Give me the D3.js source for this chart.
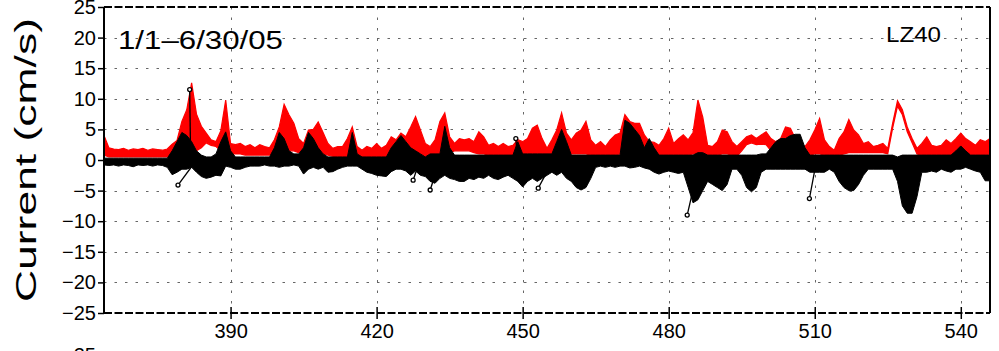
<!DOCTYPE html>
<html>
<head>
<meta charset="utf-8">
<script src="https://d3js.org/d3.v7.min.js"></script>
<style>
  body { margin: 0; background: #fff; }
  svg { display: block; }
  text { font-family: "Liberation Sans", Arial, sans-serif; fill: #000; }
</style>
</head>
<body>
<svg id="chart" width="999" height="351"></svg>
<script>
// daily samples, first one is day 364
const firstDay = 364;

// red trace: upper and lower edge of the band (cm/s)
const redHi = [
  4.0, 2.0, 1.8, 1.7, 1.9, 1.6, 1.8, 1.7, 1.9, 1.6,
  1.8, 1.7, 1.6, 1.8, 2.6, 3.2, 6.3, 8.2, 12.6, 7.5,
  5.5, 4.4, 3.3, 3.0, 4.8, 9.8, 2.7, 2.5, 2.7, 2.2,
  2.5, 2.0, 2.5, 2.2, 2.0, 3.3, 5.4, 9.1, 7.4, 6.0,
  3.5, 2.7, 4.9, 5.0, 6.2, 4.5, 2.7, 1.9, 2.2, 2.2,
  3.5, 5.4, 2.2, 1.6, 2.2, 1.9, 2.7, 1.9, 2.4, 3.8,
  3.3, 4.4, 3.8, 5.4, 7.1, 4.9, 2.7, 2.2, 3.3, 6.3,
  7.7, 3.8, 2.7, 3.5, 3.3, 3.5, 3.0, 4.6, 3.8, 2.4,
  2.7, 2.2, 2.7, 2.2, 2.4, 3.3, 3.0, 3.5, 5.2, 5.7,
  3.5, 1.9, 3.3, 4.9, 7.7, 4.4, 3.3, 4.4, 4.9, 6.3,
  3.3, 2.4, 3.0, 2.2, 3.3, 4.1, 4.4, 7.4, 6.3, 6.0,
  6.0, 4.1, 3.0, 2.9, 2.4, 3.5, 5.2, 2.7, 3.5, 4.1,
  3.3, 4.5, 9.8, 7.0, 2.4, 2.2, 3.0, 4.9, 4.6, 3.0,
  2.2, 3.0, 3.8, 4.1, 3.5, 4.1, 4.6, 3.5, 3.0, 3.5,
  5.4, 5.2, 3.5, 2.7, 2.2, 3.3, 4.9, 6.8, 3.3, 2.2,
  1.6, 3.5, 4.6, 6.6, 4.9, 4.1, 2.7, 3.0, 2.2, 2.4,
  2.7, 1.9, 6.0, 9.7, 8.2, 5.4, 3.5, 1.9, 2.7, 3.8,
  2.4, 2.2, 2.4, 3.3, 2.7, 3.5, 4.4, 3.5, 3.0, 2.4,
  3.3, 3.0, 3.5
];
const redLo = [
  0.8, 0.5, 0.5, 0.5, 0.5, 0.5, 0.5, 0.5, 0.5, 0.5,
  0.5, 0.5, 0.5, 0.5, 0.8, 1.0, 1.2, 1.0, 1.0, 1.5,
  2.0, 2.8, 2.4, 2.2, 1.5, 1.2, 1.0, 1.0, 1.0, 0.8,
  0.8, 0.8, 0.8, 0.8, 0.8, 1.0, 1.2, 1.2, 1.5, 1.5,
  1.2, 1.0, 1.0, 1.2, 1.2, 1.0, 0.8, 0.6, 0.6, 0.6,
  0.6, 0.8, 0.6, 0.6, 0.6, 0.6, 0.6, 0.6, 0.6, 0.8,
  0.8, 0.8, 0.8, 1.0, 1.0, 1.0, 0.6, 0.6, 0.8, 1.0,
  1.0, 1.2, 1.5, 1.5, 1.5, 1.5, 1.2, 1.0, 1.0, 0.8,
  0.8, 0.6, 0.6, 0.6, 0.6, 0.8, 0.8, 1.0, 1.0, 1.0,
  0.8, 0.6, 0.8, 1.0, 1.0, 1.0, 1.0, 1.0, 1.0, 1.0,
  0.8, 0.6, 0.6, 0.6, 0.6, 0.8, 1.0, 1.0, 1.0, 1.0,
  1.0, 0.8, 0.6, 0.6, 0.6, 0.8, 0.8, 0.6, 0.8, 0.8,
  0.8, 1.0, 1.0, 1.0, 0.6, 0.6, 0.8, 1.0, 1.0, 0.8,
  0.6, 1.5, 2.5, 2.8, 2.5, 2.6, 2.5, 1.5, 1.2, 1.2,
  1.5, 1.5, 1.0, 0.8, 0.6, 0.8, 1.0, 1.0, 0.8, 0.6,
  0.5, 0.8, 1.0, 1.2, 1.2, 1.2, 1.2, 1.2, 1.2, 1.2,
  1.2, 1.0, 5.2, 8.8, 7.4, 4.6, 2.8, 1.0, 0.8, 0.8,
  0.6, 0.6, 0.6, 0.8, 0.8, 0.8, 1.0, 0.8, 0.8, 0.8,
  0.8, 0.8, 1.0
];

// black sticks: daily envelope of the v component (cm/s)
const blackHi = [
  0.3, 0.3, 0.3, 0.3, 0.3, 0.3, 0.3, 0.3, 0.3, 0.3,
  0.3, 0.3, 0.3, 0.3, 1.5, 3.0, 4.5, 4.0, 3.0, 1.5,
  0.8, 0.5, 0.5, 1.0, 3.0, 4.6, 1.5, 0.5, 0.5, 0.5,
  0.5, 0.5, 0.5, 0.5, 0.5, 2.0, 4.5, 3.5, 1.5, 1.0,
  1.0, 2.0, 4.5, 3.5, 2.0, 1.0, 0.5, 0.5, 0.5, 0.5,
  0.5, 4.5, 1.0, 0.5, 0.5, 0.5, 0.5, 0.5, 0.5, 2.0,
  3.0, 4.0, 3.0, 2.0, 1.5, 1.0, 0.5, 1.0, 1.0, 1.0,
  5.5, 2.0, 0.8, 0.8, 0.8, 0.8, 0.8, 0.8, 0.8, 0.8,
  0.8, 0.8, 0.8, 0.8, 0.8, 3.0, 1.0, 1.0, 1.0, 1.0,
  1.0, 1.0, 1.0, 3.0, 5.0, 3.0, 0.8, 0.8, 0.8, 0.8,
  0.8, 0.8, 0.8, 0.8, 0.8, 0.8, 0.8, 6.5, 6.0, 5.0,
  4.0, 2.0, 3.5, 2.0, 0.8, 0.8, 0.8, 0.8, 0.8, 0.8,
  0.8, 0.8, 1.2, 1.2, 0.8, 0.8, 0.8, 0.8, 0.8, 0.8,
  0.8, 0.8, 0.8, 0.8, 0.8, 1.0, 1.0, 2.0, 3.0, 3.5,
  3.5, 4.0, 4.2, 4.2, 2.0, 0.8, 0.8, 0.8, 0.8, 0.8,
  0.8, 0.8, 0.8, 0.8, 0.8, 0.8, 0.8, 0.8, 0.8, 0.8,
  0.8, 0.8, 0.8, 0.5, 0.8, 0.8, 0.8, 0.8, 0.8, 0.8,
  0.8, 0.8, 0.8, 0.8, 0.8, 1.5, 2.3, 1.5, 0.8, 0.8,
  0.8, 0.8, 0.8
];
const blackLo = [
  -0.8, -0.9, -0.8, -1.0, -0.8, -0.9, -1.1, -0.8, -0.9, -0.8,
  -1.0, -0.8, -0.9, -1.2, -2.4, -2.0, -1.5, -1.5, -1.2, -2.0,
  -2.7, -3.0, -2.8, -2.5, -2.6, -1.0, -1.2, -1.5, -1.5, -1.2,
  -1.0, -1.0, -1.0, -0.8, -1.0, -1.0, -1.2, -1.0, -1.0, -0.8,
  -1.0, -2.3, -1.5, -1.2, -1.5, -1.2, -2.0, -1.9, -1.5, -1.2,
  -1.0, -1.0, -1.0, -1.5, -2.0, -2.2, -2.5, -2.6, -2.7, -1.9,
  -1.5, -1.5, -1.8, -2.5, -1.8, -2.5, -2.7, -3.5, -3.8, -3.0,
  -2.5, -3.0, -3.2, -3.5, -3.5, -3.0, -3.2, -2.8, -3.0, -2.5,
  -3.0, -3.2, -2.8, -2.5, -3.0, -3.5, -4.4, -3.5, -3.0, -3.5,
  -3.0, -2.5, -2.0, -2.5, -2.0, -3.0, -3.5, -4.5, -4.9, -4.5,
  -3.0, -1.2, -1.0, -1.2, -1.0, -1.2, -1.0, -1.0, -1.3, -1.2,
  -1.0, -1.3, -1.5, -2.0, -2.3, -2.0, -1.8, -2.0, -2.2, -2.0,
  -4.5, -7.0, -6.5, -5.0, -3.5, -4.0, -4.5, -5.0, -4.0, -1.5,
  -1.5, -2.5, -4.5, -5.2, -4.5, -2.0, -1.5, -1.5, -1.5, -1.5,
  -1.5, -1.5, -1.5, -1.5, -1.5, -2.0, -2.0, -2.0, -2.0, -1.5,
  -2.0, -3.5, -4.5, -5.0, -5.0, -4.0, -2.5, -1.5, -1.5, -1.5,
  -1.5, -1.5, -1.5, -3.5, -7.5, -8.7, -8.7, -6.0, -2.0, -2.0,
  -1.8, -2.0, -1.5, -1.8, -2.0, -1.5, -1.5, -1.2, -1.5, -1.8,
  -2.0, -3.4, -3.4
];

// single long sticks that stand out: base day, u (in days), v (cm/s)
const stickDay = [381.8, 383.0, 428.9, 433.0, 449.0, 456.3, 486.4, 510.4];
const stickU   = [-0.2, -3.8, -1.4, -2.0, -0.4, -3.1, -2.6, -1.5];
const stickV   = [11.5, -4.1, -3.3, -4.9, 3.5, -4.6, -9.0, -6.3];

const xTicks = [390, 420, 450, 480, 510, 540];
const yTicks = [-25, -20, -15, -10, -5, 0, 5, 10, 15, 20, 25];
const gridY = [-20, -15, -10, -5, 0, 5, 10, 15, 20];

const svg = d3.select('#chart');
const plotL = 104, plotR = 990, plotT = 7, plotB = 313;

const x = d3.scaleLinear().domain([364, 546]).range([plotL, plotR]);
const y = d3.scaleLinear().domain([-25, 25]).range([plotB, plotT]);

const rows = redHi.map((v, i) => ({
  day: firstDay + i, hi: v, lo: redLo[i], bh: blackHi[i], bl: blackLo[i]
}));

svg.append('clipPath').attr('id', 'plot')
  .append('rect')
  .attr('x', plotL).attr('y', plotT)
  .attr('width', plotR - plotL).attr('height', plotB - plotT);

// grid
const grid = svg.append('g')
  .attr('stroke', '#666')
  .attr('stroke-width', 1)
  .attr('stroke-dasharray', '2.5,8');
grid.selectAll('.gy').data(gridY).join('line')
  .attr('x1', plotL).attr('x2', plotR)
  .attr('y1', d => Math.round(y(d)) + 0.5).attr('y2', d => Math.round(y(d)) + 0.5);
grid.selectAll('.gx').data(xTicks).join('line')
  .attr('y1', plotT).attr('y2', plotB)
  .attr('x1', d => Math.round(x(d)) + 0.5).attr('x2', d => Math.round(x(d)) + 0.5);

const plot = svg.append('g').attr('clip-path', 'url(#plot)');

// red band
plot.append('path')
  .datum(rows)
  .attr('fill', '#ff0000')
  .attr('stroke', '#ff0000')
  .attr('stroke-width', 1.2)
  .attr('d', d3.area()
    .x(d => x(d.day))
    .y0(d => y(d.lo))
    .y1(d => y(d.hi)));

// black stick envelope
plot.append('path')
  .datum(rows)
  .attr('fill', '#000')
  .attr('stroke', '#000')
  .attr('stroke-width', 1)
  .attr('d', d3.area()
    .x(d => x(d.day))
    .y0(d => y(d.bl))
    .y1(d => y(d.bh)));

// long sticks
const sticks = stickDay.map((d, i) => ({ d, u: stickU[i], v: stickV[i] }));
plot.selectAll('.stick').data(sticks).join('line')
  .attr('x1', d => x(d.d)).attr('y1', y(0))
  .attr('x2', d => x(d.d + d.u)).attr('y2', d => y(d.v))
  .attr('stroke', '#000').attr('stroke-width', 1.3);
plot.selectAll('.tip').data(sticks).join('circle')
  .attr('cx', d => x(d.d + d.u)).attr('cy', d => y(d.v))
  .attr('r', 2)
  .attr('fill', '#fff').attr('stroke', '#000').attr('stroke-width', 1.3);

// frame: solid sides, dashed top and bottom
const frame = svg.append('g').attr('stroke', '#000').attr('stroke-width', 2);
frame.append('line').attr('x1', plotL).attr('x2', plotL).attr('y1', plotT).attr('y2', plotB);
frame.append('line').attr('x1', plotR).attr('x2', plotR).attr('y1', plotT).attr('y2', plotB);
frame.append('line').attr('x1', plotL).attr('x2', plotR).attr('y1', plotT).attr('y2', plotT)
  .attr('stroke-dasharray', '8,2.5');
frame.append('line').attr('x1', plotL).attr('x2', plotR).attr('y1', plotB).attr('y2', plotB)
  .attr('stroke-dasharray', '8,2.5');

// axes
const yAxis = svg.append('g')
  .attr('transform', `translate(${plotL},0)`)
  .call(d3.axisLeft(y).tickValues(yTicks).tickSize(6).tickPadding(2)
    .tickFormat(d => d < 0 ? '\u2212' + Math.abs(d) : d));
yAxis.select('.domain').remove();
yAxis.selectAll('.tick line').attr('stroke', '#000').attr('stroke-width', 1.5);
yAxis.selectAll('text').attr('font-size', 20).attr('fill', '#000')
  .attr('font-family', '"Liberation Sans", Arial, sans-serif');

const xAxis = svg.append('g')
  .attr('transform', `translate(0,${plotB})`)
  .call(d3.axisBottom(x).tickValues(xTicks).tickSize(6).tickPadding(5));
xAxis.select('.domain').remove();
xAxis.selectAll('.tick line').attr('y1', -6).attr('y2', 6)
  .attr('stroke', '#000').attr('stroke-width', 1.5);
xAxis.selectAll('text').attr('font-size', 20).attr('fill', '#000')
  .attr('font-family', '"Liberation Sans", Arial, sans-serif');

// labels
svg.append('text')
  .attr('transform', 'translate(36,160) rotate(-90)')
  .attr('text-anchor', 'middle')
  .attr('font-size', 29)
  .attr('textLength', 284)
  .attr('lengthAdjust', 'spacingAndGlyphs')
  .text('Current (cm/s)');

svg.append('text')
  .attr('x', 118).attr('y', 49)
  .attr('font-size', 25)
  .attr('textLength', 165)
  .attr('lengthAdjust', 'spacingAndGlyphs')
  .text('1/1\u20136/30/05');

svg.append('text')
  .attr('x', 886).attr('y', 42)
  .attr('font-size', 22)
  .attr('textLength', 55)
  .attr('lengthAdjust', 'spacingAndGlyphs')
  .text('LZ40');

// top of the next panel's axis label, cut by the bottom edge
svg.append('text')
  .attr('x', 96).attr('y', 362)
  .attr('text-anchor', 'end')
  .attr('font-size', 20)
  .text('25');
</script>
</body>
</html>
